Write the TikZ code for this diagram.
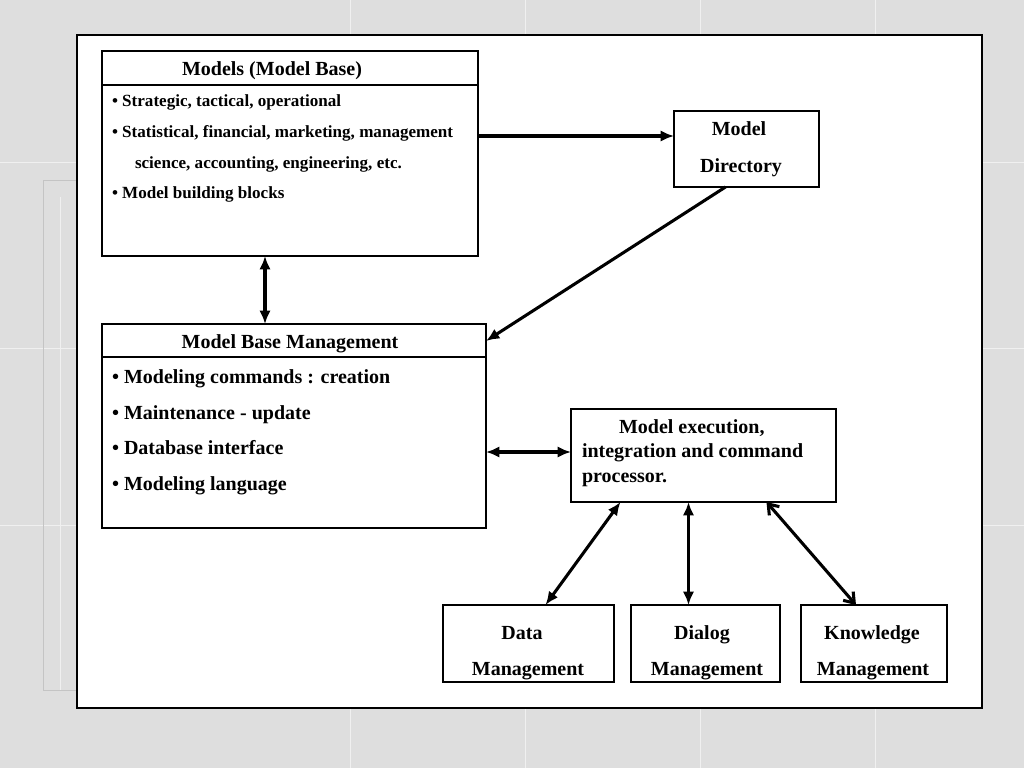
\documentclass[tikz,border=0pt]{standalone}
\usepackage{fontspec}
\setmainfont{Liberation Serif}
\usetikzlibrary{arrows.meta,calc}
\definecolor{marble}{RGB}{222,222,222}
\definecolor{vein}{RGB}{196,196,196}
\definecolor{seamc}{RGB}{240,240,240}
\begin{document}
\begin{tikzpicture}[x=0.75pt,y=-0.75pt,
  box/.style={draw=black,line width=1.1pt,fill=white,inner sep=0pt,outer sep=0pt,anchor=north west},
  txt/.style={inner sep=0pt,outer sep=0pt,font=\bfseries\fontsize{15pt}{18pt}\selectfont},
  stxt/.style={inner sep=0pt,outer sep=0pt,font=\bfseries\fontsize{12.8pt}{15pt}\selectfont,anchor=base west},
  conn/.style={draw=black,line width=2.3pt},
  arr/.style={conn,-{Latex[length=10pt,width=8.5pt]}},
  darr/.style={conn,{Latex[length=10pt,width=8.5pt]}-{Latex[length=10pt,width=8.5pt]}},
  barr/.style={conn,{Straight Barb[length=7pt,width=10pt]}-{Straight Barb[length=7pt,width=10pt]}},
  seam/.style={draw=seamc,line width=0.6pt}]
\useasboundingbox (0,0) rectangle (1024,768);
\fill[marble] (0,0) rectangle (1024,768);
% faint background tile seams and frame lines
\foreach \sx in {350,525,700,875} {\path[seam] (\sx,0) -- (\sx,35); \path[seam] (\sx,708) -- (\sx,768);}
\foreach \sy in {162,348,525} {\path[seam] (0,\sy) -- (77,\sy); \path[seam] (982,\sy) -- (1024,\sy);}
\draw[vein,line width=0.7pt] (43,180) -- (43,690) -- (77,690);
\draw[vein,line width=0.7pt] (43,180) -- (77,180);
\path[seam] (60,197) -- (60,690);

\draw[line width=1.1pt,fill=white] (77,35) rectangle (982,708);

% boxes
\node[box,minimum width={376*0.75pt},minimum height={205*0.75pt}] (models) at (102,51) {};
\draw[line width=1.1pt] (102,85) -- (478,85);
\node[box,minimum width={145*0.75pt},minimum height={76*0.75pt}] (dir) at (674,111) {};
\node[box,minimum width={384*0.75pt},minimum height={204*0.75pt}] (mbm) at (102,324) {};
\draw[line width=1.1pt] (102,357) -- (486,357);
\node[box,minimum width={265*0.75pt},minimum height={93*0.75pt}] (exec) at (571,409) {};
\node[box,minimum width={171*0.75pt},minimum height={77*0.75pt}] (data) at (443,605) {};
\node[box,minimum width={149*0.75pt},minimum height={77*0.75pt}] (dialog) at (631,605) {};
\node[box,minimum width={146*0.75pt},minimum height={77*0.75pt}] (know) at (801,605) {};

% texts
\node[txt,anchor=base] (t1) at (272,75) {Models (Model Base)};
\node[stxt] (t2) at (112,106) {• Strategic, tactical, operational};
\node[stxt] (t3) at (112,137) {• Statistical, financial, marketing, management};
\node[stxt] (t4) at (135,168) {science, accounting, engineering, etc.};
\node[stxt] (t5) at (112,198) {• Model building blocks};

\node[txt,anchor=base] (d1) at (739,135) {Model};
\node[txt,anchor=base] (d2) at (741,172) {Directory};

\node[txt,anchor=base] (m0) at (290,348) {Model Base Management};
\node[txt,anchor=base west] (m1) at (112,383) {• Modeling commands : creation};
\node[txt,anchor=base west] (m2) at (112,419) {• Maintenance - update};
\node[txt,anchor=base west] (m3) at (112,454) {• Database interface};
\node[txt,anchor=base west] (m4) at (112,490) {• Modeling language};

\node[txt,anchor=base west] (e1) at (619,433) {Model execution,};
\node[txt,anchor=base west] (e2) at (582,457) {integration and command};
\node[txt,anchor=base west] (e3) at (582,482) {processor.};

\node[txt,anchor=base] (a1) at (522,639) {Data};
\node[txt,anchor=base] (a2) at (528,675) {Management};
\node[txt,anchor=base] (b1) at (702,639) {Dialog};
\node[txt,anchor=base] (b2) at (707,675) {Management};
\node[txt,anchor=base] (k1) at (872,639) {Knowledge};
\node[txt,anchor=base] (k2) at (873,675) {Management};

% connectors
\path[arr] ([yshift={17.5*0.75pt}]models.east) -- ([yshift={13*0.75pt}]dir.west);
\path[arr] ([xshift={-21*0.75pt}]dir.south) -- ([yshift={-17*0.75pt}]mbm.north east);
\path[darr] ([xshift={-25*0.75pt}]models.south) -- ([xshift={-29*0.75pt}]mbm.north);
\path[darr] ([yshift={-26*0.75pt}]mbm.east) -- ([yshift={3.5*0.75pt}]exec.west);
\path[darr] ([xshift={-83*0.75pt}]exec.south) -- ([xshift={17*0.75pt}]data.north);
\path[darr] ([xshift={-15*0.75pt}]exec.south) -- ([xshift={-17*0.75pt}]dialog.north);
\path[barr] ([xshift={63*0.75pt}]exec.south) -- ([xshift={-18*0.75pt}]know.north);
\end{tikzpicture}
\end{document}
